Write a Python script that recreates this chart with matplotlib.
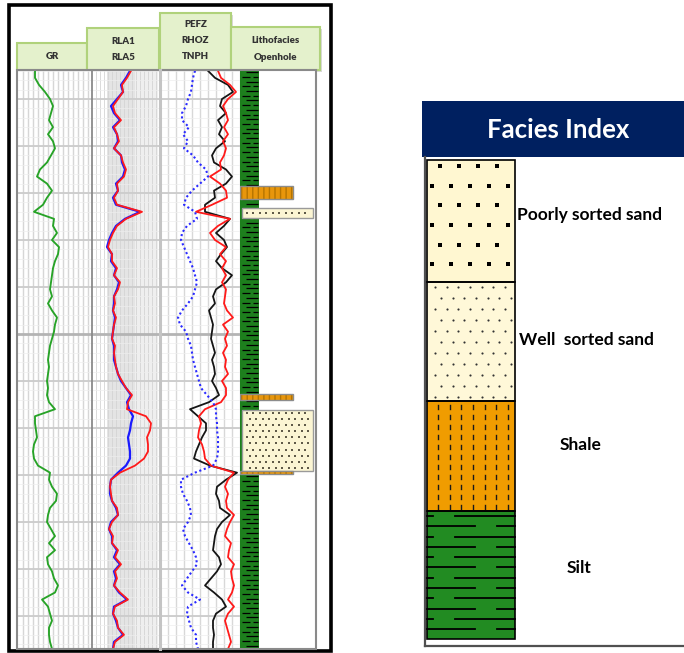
import numpy as np
import matplotlib
matplotlib.use('Agg')
import matplotlib.pyplot as plt
from matplotlib.patches import Rectangle

plt.rcParams['font.family'] = ['Lato', 'DejaVu Sans']

# ---------------- data ----------------
DEPTH = [1994.0, 1995.5, 1997.0, 1998.5, 2000.0, 2001.5, 2003.0, 2004.5, 2006.0, 2007.5,
         2009.0, 2010.5, 2012.0, 2013.5, 2015.0, 2016.5, 2018.0, 2019.5, 2021.0, 2022.5,
         2024.0, 2025.5, 2027.0, 2028.5, 2030.0, 2031.5, 2033.0, 2034.5, 2036.0, 2037.5,
         2039.0, 2040.5, 2042.0, 2043.5, 2045.0, 2046.5, 2048.0, 2049.5, 2051.0, 2052.5,
         2054.0, 2055.5, 2057.0, 2058.5, 2060.0, 2061.5, 2063.0, 2064.5, 2066.0, 2067.5,
         2069.0, 2070.5, 2072.0, 2073.5, 2075.0, 2076.5, 2078.0, 2079.5, 2081.0, 2082.5,
         2084.0, 2085.5, 2087.0, 2088.5, 2090.0, 2091.5, 2093.0, 2094.5, 2096.0, 2097.5,
         2099.0, 2100.5, 2102.0, 2103.5, 2105.0, 2106.5, 2108.0, 2109.5, 2111.0, 2112.5,
         2114.0, 2115.5, 2117.0]

GR = [34, 34, 42, 54, 64, 70, 66, 62, 70, 60,
      70, 74, 66, 58, 44, 38, 58, 68, 58, 50,
      32, 72, 70, 78, 68, 82, 80, 74, 70, 68,
      66, 64, 68, 60, 68, 78, 74, 72, 68, 64,
      62, 60, 62, 60, 58, 60, 58, 62, 74, 34,
      34, 36, 38, 32, 30, 32, 40, 64, 62, 68,
      78, 76, 64, 60, 58, 66, 74, 62, 74, 58,
      60, 68, 72, 80, 74, 48, 60, 64, 68, 62,
      62, 64, 68]

RLA1 = [19.5, 17.5, 15, 15.5, 13, 10.5, 11.5, 14.5, 11, 12.5,
        13.5, 11, 14.5, 15.5, 17, 16, 12.5, 13, 11, 12.5,
        25, 17, 12.5, 10.5, 9, 8, 10, 10, 12.5, 11,
        14, 13, 11, 11.5, 10.5, 12, 11, 10.5, 10, 11.5,
        11, 11.5, 12, 13, 15, 17, 20, 18, 17.5, 27,
        29.5, 29, 27.5, 28, 28, 26, 21.5, 14, 9.5, 9,
        9.5, 10, 12.5, 13, 10, 8.5, 10.5, 10, 13, 11.5,
        14.5, 11.5, 12.5, 11, 14, 18, 11.5, 10.5, 12.5, 13,
        16, 11.5, 10.5]

RLA5 = [19, 17, 14.5, 15.5, 12.5, 9.5, 11, 14, 10.5, 12.5,
        13, 11, 14.5, 15, 16.5, 15.5, 12, 13, 10.5, 12,
        24, 16.5, 12, 10, 8.5, 7.5, 10, 9.5, 12, 11,
        13.5, 12.5, 11, 11, 10.5, 11.5, 11, 10.5, 10, 11,
        11, 11, 12, 13, 14.5, 17, 19.5, 17.5, 18.5, 20.5,
        19.5, 19, 18, 18.5, 19, 19, 17, 13, 9.5, 9,
        9, 10, 12, 13, 9.5, 8.5, 10, 10, 12.5, 11,
        14, 11, 12, 11, 13.5, 17.5, 11, 10.5, 12, 13,
        15.5, 11, 10.5]

TNPH = [25, 27, 28, 29, 32, 34, 38, 38, 31, 37,
        32, 36, 27, 22, 14, 12, 20, 28, 34, 36,
        25, 23, 33, 38, 39, 36, 33, 30, 27, 25,
        23, 25, 27, 32, 38, 42, 40, 34, 32, 29,
        28, 27, 25, 23, 21, 19, 13, 7, 4, 4,
        3, 3, 2, 2, 2, 3, 7, 25, 39, 39,
        37, 33, 30, 29, 32, 37, 35, 31, 27, 24,
        23, 28, 33, 38, 32, 20, 32, 33, 31, 29,
        24, 24, 22]

RHOZ = [2.38, 2.45, 2.58, 2.63, 2.52, 2.50, 2.56, 2.48, 2.52, 2.49,
        2.55, 2.46, 2.42, 2.44, 2.56, 2.62, 2.56, 2.44, 2.45, 2.35,
        2.35, 2.60, 2.54, 2.46, 2.54, 2.57, 2.51, 2.46, 2.52, 2.62,
        2.56, 2.46, 2.43, 2.45, 2.39, 2.41, 2.43, 2.42, 2.41, 2.43,
        2.45, 2.42, 2.44, 2.45, 2.42, 2.46, 2.49, 2.39, 2.20, 2.28,
        2.36, 2.36, 2.32, 2.29, 2.26, 2.24, 2.40, 2.67, 2.56, 2.47,
        2.46, 2.49, 2.50, 2.60, 2.52, 2.47, 2.45, 2.44, 2.43, 2.49,
        2.51, 2.47, 2.41, 2.35, 2.44, 2.52, 2.56, 2.46, 2.43, 2.43,
        2.44, 2.43, 2.43]

PEFZ = [5.8, 6.1, 7.0, 7.6, 6.8, 6.3, 6.6, 6.8, 6.4, 6.8,
        6.3, 6.6, 6.4, 6.0, 6.1, 5.0, 6.0, 6.6, 6.7, 5.2,
        3.6, 7.0, 5.8, 5.0, 5.5, 6.6, 6.0, 6.6, 6.2, 6.6,
        6.2, 6.6, 6.5, 6.4, 6.7, 7.3, 6.3, 6.8, 6.5, 6.7,
        6.3, 6.6, 6.5, 6.8, 6.2, 6.6, 6.6, 6.1, 4.5, 3.9,
        4.1, 3.9, 3.8, 4.2, 4.4, 4.5, 5.1, 7.4, 6.8, 6.5,
        6.8, 6.6, 6.7, 7.4, 7.0, 6.7, 6.5, 7.1, 6.9, 6.8,
        7.4, 7.1, 7.2, 7.4, 7.2, 6.8, 7.4, 6.8, 6.5, 6.7,
        6.9, 7.1, 6.8]

FACIES_TOP = [2018.5, 2023.2, 2062.8, 2066.2, 2079.1]
FACIES_BASE = [2021.3, 2025.3, 2064.0, 2079.1, 2079.8]
FACIES_NAME = ['Shale', 'Well sorted sand', 'Shale', 'Well sorted sand', 'Shale']

TRACK_TITLES = ['GR', 'RLA1\nRLA5', 'PEFZ\nRHOZ\nTNPH', 'Lithofacies\nOpenhole']
LEGEND_TITLE = 'Facies Index'
LEGEND_LABELS = ['Poorly sorted sand', 'Well  sorted sand', 'Shale', 'Silt']

# ---------------- layout helpers ----------------
W, H = 684, 653
fig = plt.figure(figsize=(W / 100, H / 100), dpi=100)


def px_axes(x0, y0, x1, y1):
    return fig.add_axes([x0 / W, 1 - y1 / H, (x1 - x0) / W, (y1 - y0) / H])


def clean(ax):
    ax.set_xticks([])
    ax.set_yticks([])
    for s in ax.spines.values():
        s.set_visible(False)


bg = px_axes(0, 0, W, H)
bg.set_xlim(0, W)
bg.set_ylim(H, 0)
bg.axis('off')
bg.set_zorder(0)

# outer black frame of left panel
bg.add_patch(Rectangle((8.5, 5), 322.5, 646, fill=False, ec='black', lw=2.6))

# header boxes
hdr = [(17, 43, 87, 70), (87, 28, 159, 70), (160, 13, 231, 70), (231, 27, 320, 70)]
hdr_text_y = [[56.5], [41.5, 57.5], [24.5, 40.5, 56.5], [40.5, 57]]
for (x0, y0, x1, y1), title, ys in zip(hdr, TRACK_TITLES, hdr_text_y):
    bg.add_patch(Rectangle((x0 + 1.5, y0 + 1.5), x1 - x0, y1 - y0, fc='#d9d9d9', ec='none'))
    bg.add_patch(Rectangle((x0, y0), x1 - x0, y1 - y0, fc='#e4f1cc', ec='#b0d27b', lw=1.5))
    for line, yy in zip(title.split('\n'), ys):
        bg.text((x0 + x1) / 2, yy, line, ha='center', va='center', fontsize=7.0,
                fontweight='heavy', color='#333333')

# ---------------- tracks ----------------
DTOP, DBOT = 1993.83, 2117.02
ax1 = px_axes(18, 70, 92, 649)
ax2 = px_axes(92, 70, 160, 649)
ax3 = px_axes(160, 70, 240, 649)
ax4 = px_axes(240, 70, 315, 649)
for ax in (ax1, ax2, ax3, ax4):
    ax.set_ylim(DBOT, DTOP)
    clean(ax)
    ax.set_zorder(2)

ax1.set_xlim(0, 148)
ax2.set_xlim(0, 34)
ax3.set_xlim(1.90, 2.70)
ax4.set_xlim(0, 1)

# vertical grids
for v in range(10, 148, 10):
    ax1.axvline(v, color='#d6d6d6', lw=1.0, zorder=0)
ax2.axvspan(7.5, 21.5, color='#e4e4e4', lw=0, zorder=0)
ax2.axvspan(21.5, 33, color='#efefef', lw=0, zorder=0)
for v in np.arange(2, 34, 2):
    ax2.axvline(v, color='#d4d4d4', lw=0.6, zorder=0)
for v in np.arange(1.98, 2.70, 0.08):
    ax3.axvline(v, color='#d8d8d8', lw=1.0, zorder=0)

# horizontal grids
for ax in (ax1, ax2, ax3):
    for d in range(1994, 2118, 2):
        ax.axhline(d, color='#eeeeee', lw=0.5, zorder=0)
    for d in range(2000, 2117, 10):
        if d == 2050:
            ax.axhline(d, color='#b4b4b4', lw=2.0, zorder=0.5)
        else:
            ax.axhline(d, color='#cbcbcb', lw=1.3, zorder=0.5)

# curves
ax1.plot(GR, DEPTH, color='#27a327', lw=1.35, zorder=3)
ax2.plot(RLA5, DEPTH, color='#1a1aff', lw=1.6, zorder=3)
ax2.plot(RLA1, DEPTH, color='#ff1a1a', lw=1.3, zorder=4)
ax3.plot(RHOZ, DEPTH, color='#151515', lw=1.3, zorder=3)

ax3p = ax3.twiny()
ax3p.set_xlim(0, 8)
clean(ax3p)
ax3p.plot(PEFZ, DEPTH, color='#ff1a1a', lw=1.3)

ax3n = ax3.twiny()
ax3n.set_xlim(60, -20)
clean(ax3n)
ax3n.plot(TNPH, DEPTH, color='#2a2aff', lw=1.5, ls=(0, (1, 1.3)))
ax3.set_ylim(DBOT, DTOP)

# lithofacies track
SILT_W = 0.253
ax4.axvspan(0, SILT_W, color='#1d7f1d', lw=0)
dd = np.arange(1994.3, 2117, 1.0)
for i, d in enumerate(dd):
    if i % 2 == 0:
        ax4.hlines(d, 0.08, 0.24, color='black', lw=0.9)
    else:
        ax4.hlines(d, 0.03, 0.13, color='black', lw=0.9)
        ax4.hlines(d, 0.17, 0.24, color='black', lw=0.9)

for top, base, name in zip(FACIES_TOP, FACIES_BASE, FACIES_NAME):
    if name == 'Shale':
        x0, x1 = 0.0, 0.71
        ax4.add_patch(Rectangle((x0, top), x1 - x0, base - top, fc='#e8960c',
                                ec='#b57400', hatch='|||', lw=0, zorder=3))
        ax4.add_patch(Rectangle((x0, top), x1 - x0, base - top, fill=False,
                                ec='#8c8c8c', lw=1.0, zorder=4))
    else:
        x0, x1 = 0.03, 0.97
        ax4.add_patch(Rectangle((x0, top), x1 - x0, base - top, fc='#fbf5d3',
                                ec='#9a9a9a', lw=1.0, zorder=3))
        n = max(1, int((base - top) / 1.21))
        rows = top + (np.arange(n) + 0.5) * (base - top) / n
        for r_i, r in enumerate(rows):
            xs = np.arange(0.09 + (r_i % 2) * 0.04, x1 - 0.03, 0.087)
            ax4.scatter(xs, np.full(len(xs), r), s=2.4, marker='s', color='#5f5a48',
                        lw=0, zorder=5)

# ---------------- overlay borders ----------------
ov = px_axes(0, 0, W, H)
ov.set_xlim(0, W)
ov.set_ylim(H, 0)
ov.axis('off')
ov.patch.set_visible(False)
ov.set_zorder(10)
ov.add_patch(Rectangle((17, 70), 299, 579, fill=False, ec='#8a8a8a', lw=1.5))
ov.plot([92, 92], [70, 649], color='#8a8a8a', lw=1.3)
ov.plot([160, 160], [70, 649], color='#c4c4c4', lw=2.2)

# ---------------- legend panel ----------------
bg.add_patch(Rectangle((422, 101), 262, 56, fc='#002060', ec='none'))
bg.text(558, 130, LEGEND_TITLE, ha='center', va='center', color='white',
        fontsize=18.5, fontweight='bold')
bg.plot([424.5, 424.5], [157, 645.5], color='#505050', lw=1.6)
bg.plot([424.5, 684], [645.5, 645.5], color='#505050', lw=1.6)

LX0, LX1 = 427, 515
edges = [160, 282, 401, 511, 639]
fills = ['#fff7d1', '#fff8d8', '#f09c00', '#228b22']
for (y0, y1, fc) in zip(edges[:-1], edges[1:], fills):
    bg.add_patch(Rectangle((LX0, y0), LX1 - LX0, y1 - y0, fc=fc, ec='none'))

# poorly sorted sand: big staggered squares
for i, yy in enumerate(np.arange(166, 280, 19.7)):
    xs = np.arange(440 if i % 2 == 0 else 432, 513, 19)
    bg.scatter(xs, np.full(len(xs), yy), marker='s', s=10, color='black', lw=0, zorder=3)
# well sorted sand: small dots
for i, yy in enumerate(np.arange(287, 400, 11)):
    xs = np.arange(435 if i % 2 == 0 else 441, 513, 11.7)
    bg.scatter(xs, np.full(len(xs), yy), marker='o', s=2.4, color='#333333', lw=0, zorder=3)
# shale: short vertical dashes
for yy in np.arange(407, 510, 10):
    for xx in np.arange(438, 512, 11.65):
        bg.plot([xx, xx], [yy - 2.0, yy + 2.0], color='#1a1a1a', lw=1.0, zorder=3)
# silt: horizontal broken lines
for i, yy in enumerate(np.arange(516, 634, 10.3)):
    segs = [(427, 433), (455, 515)] if i % 2 == 0 else [(427, 475), (497, 515)]
    for a, b in segs:
        bg.plot([a, b], [yy, yy], color='black', lw=1.3, zorder=3)
for (y0, y1) in zip(edges[:-1], edges[1:]):
    bg.add_patch(Rectangle((LX0, y0), LX1 - LX0, y1 - y0, fill=False, ec='black', lw=1.2, zorder=4))

lab_pos = [(517, 215, 'left'), (519, 340, 'left'), (581, 445, 'center'), (579, 568, 'center')]
for (x, y, ha), lab in zip(lab_pos, LEGEND_LABELS):
    bg.text(x, y, lab, ha=ha, va='center', fontsize=12.5, fontweight='bold', color='black')

fig.savefig('out.png', dpi=100)
